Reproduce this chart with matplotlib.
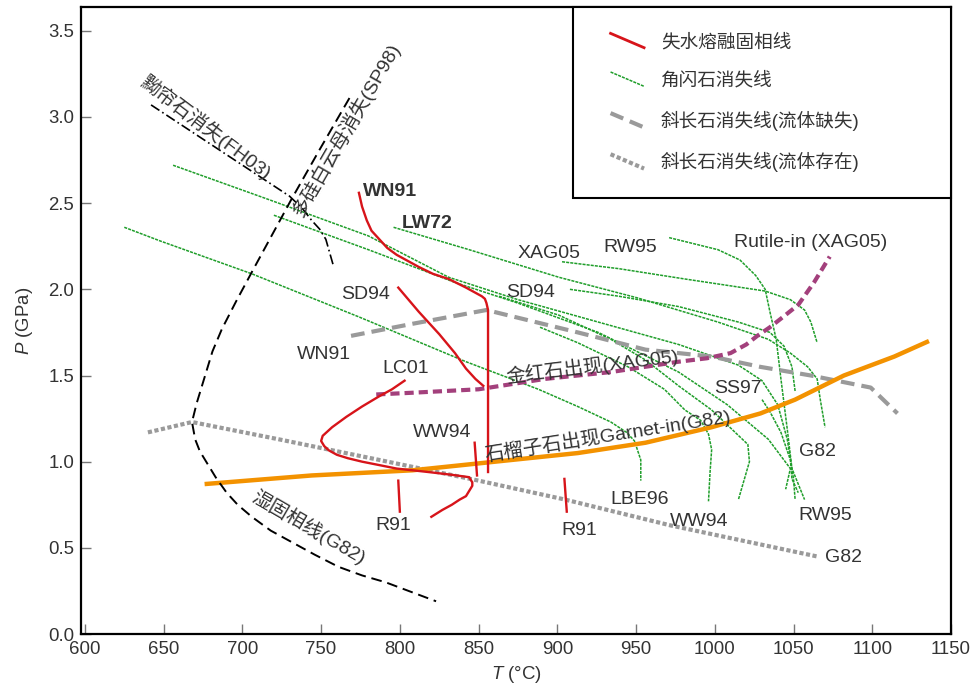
"""P-T phase diagram: dehydration-melting solidi, amphibole-out and plagioclase-out curves."""
import numpy as np
import matplotlib
matplotlib.use("Agg")
import matplotlib.pyplot as plt
from matplotlib.legend_handler import HandlerBase
from matplotlib.lines import Line2D
from matplotlib.ticker import FormatStrFormatter

plt.rcParams["font.family"] = ["Liberation Sans", "Noto Sans CJK SC"]
plt.rcParams["mathtext.fontset"] = "custom"
plt.rcParams["mathtext.it"] = "Liberation Sans:italic"
plt.rcParams["mathtext.rm"] = "Liberation Sans"

# --- dehydration-melting solidi (red) ---
wn91_T = [774, 776, 779, 782, 787, 792, 798, 805, 812, 821, 831, 842, 852, 854, 855, 856, 856, 856]
wn91_P = [2.56, 2.48, 2.40, 2.34, 2.29, 2.24, 2.20, 2.165, 2.13, 2.09, 2.06, 2.01, 1.96, 1.945,
          1.92, 1.88, 1.83, 0.94]
sd94_T = [799, 812, 825, 835, 842, 848, 853]
sd94_P = [2.01, 1.87, 1.74, 1.63, 1.54, 1.48, 1.44]
lc01_T = [803, 795, 787, 776, 766, 757, 751, 750, 752, 755, 760, 767, 776, 787, 798, 808, 818,
          832, 844, 846, 846, 844, 842, 838, 833, 827, 820]
lc01_P = [1.47, 1.42, 1.38, 1.32, 1.26, 1.20, 1.15, 1.12, 1.09, 1.065, 1.04, 1.02, 1.00, 0.98,
          0.96, 0.95, 0.94, 0.925, 0.91, 0.88, 0.86, 0.83, 0.80, 0.78, 0.75, 0.72, 0.68]
r91a_T = [799, 800]
r91a_P = [0.89, 0.71]
ww94_T = [847.5, 849]
ww94_P = [1.11, 0.92]
r91b_T = [904.5, 906]
r91b_P = [0.90, 0.71]

# --- amphibole-out curves (green) ---
amph_curves = [
    ([656, 717, 780, 831, 875, 926, 977, 1015, 1030, 1040, 1046, 1050, 1051],
     [2.72, 2.52, 2.31, 2.07, 1.94, 1.81, 1.68, 1.56, 1.47, 1.33, 1.13, 0.90, 0.78]),
    ([720, 780, 835, 875, 926, 977, 1008, 1034, 1048, 1045],
     [2.43, 2.23, 2.04, 1.92, 1.75, 1.52, 1.33, 1.13, 0.96, 0.84]),
    ([625, 648, 706, 774, 842, 888, 913, 934, 944, 949, 953, 953],
     [2.36, 2.28, 2.09, 1.84, 1.58, 1.42, 1.32, 1.23, 1.17, 1.12, 1.01, 0.89]),
    ([796, 844, 901, 951, 1002, 1034, 1048, 1059, 1065, 1067, 1070],
     [2.36, 2.23, 2.07, 1.95, 1.81, 1.71, 1.63, 1.55, 1.48, 1.36, 1.20]),
    ([903, 939, 981, 1032, 1048, 1057, 1061, 1065],
     [2.16, 2.12, 2.06, 1.99, 1.94, 1.88, 1.81, 1.69]),
    ([971, 1002, 1016, 1026, 1032, 1035, 1039, 1042, 1046, 1049, 1057],
     [2.30, 2.23, 2.17, 2.08, 2.00, 1.87, 1.71, 1.48, 1.19, 0.96, 0.78]),
    ([908, 939, 977, 1015, 1035, 1044, 1049, 1051],
     [2.00, 1.96, 1.90, 1.81, 1.75, 1.67, 1.55, 1.41]),
    ([889, 913, 945, 968, 981, 991, 996, 998, 997, 996],
     [1.78, 1.69, 1.55, 1.42, 1.30, 1.24, 1.16, 1.07, 0.94, 0.77]),
    ([863, 901, 934, 956, 977, 998, 1021, 1022, 1015],
     [1.96, 1.85, 1.71, 1.59, 1.44, 1.30, 1.10, 1.00, 0.78]),
    ([1030, 1035, 1042, 1048, 1049, 1053],
     [1.36, 1.29, 1.17, 1.01, 0.90, 0.82]),
]

# --- plagioclase-out, fluid absent (grey dashed) and fluid present (grey dotted) ---
plag_dry_T = [769, 808, 855, 913, 956, 998, 1029, 1061, 1099, 1116]
plag_dry_P = [1.73, 1.80, 1.88, 1.75, 1.65, 1.61, 1.55, 1.50, 1.43, 1.28]
plag_wet_T = [640, 668, 723, 787, 850, 905, 972, 1065]
plag_wet_P = [1.17, 1.23, 1.13, 1.01, 0.89, 0.78, 0.63, 0.45]

# --- garnet-in (orange) and rutile-in (purple) ---
grt_T = [676, 744, 808, 850, 913, 956, 998, 1029, 1051, 1082, 1114, 1136]
grt_P = [0.87, 0.92, 0.95, 0.99, 1.05, 1.11, 1.20, 1.28, 1.36, 1.50, 1.61, 1.70]
rt_T = [785, 808, 850, 892, 934, 977, 995, 1010, 1020, 1027, 1035, 1042, 1053, 1063, 1073]
rt_P = [1.39, 1.40, 1.42, 1.48, 1.52, 1.58, 1.60, 1.63, 1.68, 1.73, 1.78, 1.83, 1.91, 2.04, 2.19]

# --- wet solidus / phengite-out (black dashed), zoisite-out (dash-dot) ---
solidus_T = [768, 749, 731, 706, 696, 687, 681, 677, 674, 671, 668, 670, 673, 677, 683, 690, 697,
             706, 718, 732, 746, 761, 776, 791, 807, 823]
solidus_P = [3.11, 2.81, 2.52, 2.10, 1.93, 1.77, 1.64, 1.52, 1.43, 1.34, 1.23, 1.13, 1.06, 1.00,
             0.91, 0.82, 0.75, 0.68, 0.60, 0.53, 0.46, 0.39, 0.34, 0.30, 0.245, 0.19]
zo_T = [642, 730, 738, 744, 749, 753, 758]
zo_P = [3.07, 2.54, 2.47, 2.40, 2.35, 2.29, 2.13]

# curve labels: text, T, P, rotation
curve_labels = [
    ("WN91", 794, 2.57, 0), ("LW72", 817, 2.38, 0), ("SD94", 778, 1.97, 0),
    ("WN91", 752, 1.62, 0), ("LC01", 804, 1.54, 0), ("WW94", 827, 1.17, 0),
    ("R91", 796, 0.63, 0), ("R91", 914, 0.60, 0), ("LBE96", 952, 0.78, 0),
    ("WW94", 990, 0.655, 0), ("RW95", 1070, 0.69, 0), ("G82", 1065, 1.06, 0),
    ("G82", 1082, 0.445, 0), ("SS97", 1015, 1.425, 0), ("XAG05", 895, 2.21, 0),
    ("RW95", 946, 2.24, 0), ("SD94", 883, 1.98, 0), ("Rutile-in (XAG05)", 1061, 2.27, 0),
    ("金红石出现(XAG05)", 922, 1.555, 7), ("石榴子石出现Garnet-in(G82)", 932, 1.15, 9),
    ("湿固相线(G82)", 742, 0.62, -30), ("黝帘石消失(FH03)", 677, 2.94, -37),
    ("多硅白云母消失(SP98)", 766, 2.93, 60),
]
bold_labels = {(794, 2.57), (817, 2.38)}

RED = "#d7141a"
GREEN = "#1f9e2a"
GREY = "#9a9a9a"
ORANGE = "#f39200"
PURPLE = "#a3407c"
TEXT = "#333333"


class SlantedHandle(HandlerBase):
    """Legend key drawn as a short descending segment."""

    def create_artists(self, legend, orig_handle, xdescent, ydescent,
                       width, height, fontsize, trans):
        x0 = -xdescent + width * 0.25
        x1 = -xdescent + width
        line = Line2D([x0, x1], [height * 1.05 - ydescent, -0.05 * height - ydescent])
        line.update_from(orig_handle)
        line.set_transform(trans)
        return [line]


fig = plt.figure(figsize=(9.71, 6.89), dpi=100)
ax = fig.add_axes([0.0834, 0.0798, 0.896, 0.910])

for T, P in amph_curves:
    ax.plot(T, P, color=GREEN, lw=1.1, dashes=(2, 0.7), zorder=2)

ax.plot(plag_dry_T, plag_dry_P, color=GREY, lw=3, dashes=(3.3, 1.7), zorder=3)
ax.plot(plag_wet_T, plag_wet_P, color=GREY, lw=3, dashes=(1, 0.6), zorder=3)
ax.plot(grt_T, grt_P, color=ORANGE, lw=3.2, zorder=4, solid_capstyle="butt")
ax.plot(rt_T, rt_P, color=PURPLE, lw=3, dashes=(2.2, 1.2), zorder=4)

for T, P in [(wn91_T, wn91_P), (sd94_T, sd94_P), (lc01_T, lc01_P),
             (r91a_T, r91a_P), (ww94_T, ww94_P), (r91b_T, r91b_P)]:
    ax.plot(T, P, color=RED, lw=1.7, zorder=5)

ax.plot(solidus_T, solidus_P, color="black", lw=1.4, dashes=(5.5, 3), zorder=5)
ax.plot(zo_T, zo_P, color="black", lw=1.2, dashes=(6, 2, 1, 2), zorder=5)

for text, t, p, rot in curve_labels:
    weight = "bold" if (t, p) in bold_labels else "normal"
    ax.text(t, p, text, fontsize=14, color=TEXT, rotation=rot, ha="center", va="center",
            rotation_mode="anchor", fontweight=weight, zorder=6)

handles = [
    Line2D([], [], color=RED, lw=2),
    Line2D([], [], color=GREEN, lw=1.1, dashes=(2, 0.7)),
    Line2D([], [], color=GREY, lw=3, dashes=(3.3, 1.7)),
    Line2D([], [], color=GREY, lw=3, dashes=(1, 0.6)),
]
names = ["失水熔融固相线", "角闪石消失线", "斜长石消失线(流体缺失)", "斜长石消失线(流体存在)"]
leg = ax.legend(handles, names, handler_map={Line2D: SlantedHandle()},
                loc="upper left", bbox_to_anchor=(0.5655, 0.697, 0.4345, 0.303),
                mode="expand", borderaxespad=0, borderpad=1.42, labelspacing=1.13,
                handlelength=2.4, handletextpad=0.9, fontsize=13.4,
                fancybox=False, framealpha=1, edgecolor="black")
leg.get_frame().set_linewidth(1.5)
leg.set_zorder(10)
for txt in leg.get_texts():
    txt.set_color(TEXT)

ax.set_xlim(597.5, 1148)
ax.set_ylim(0.006, 3.638)
ax.set_xticks(np.arange(600, 1151, 50))
ax.set_yticks(np.arange(0, 3.51, 0.5))
ax.yaxis.set_major_formatter(FormatStrFormatter("%.1f"))
ax.tick_params(direction="in", length=7, width=1, color="#777777",
               labelsize=13.4, labelcolor=TEXT, pad=5)
for s in ax.spines.values():
    s.set_linewidth(1.6)

ax.set_xlabel(r"$\mathit{T}$ (°C)", fontsize=13.4, color=TEXT, labelpad=4)
ax.set_ylabel(r"$\mathit{P}$ (GPa)", fontsize=13.4, color=TEXT, labelpad=9)

fig.savefig("out.png", dpi=100)
